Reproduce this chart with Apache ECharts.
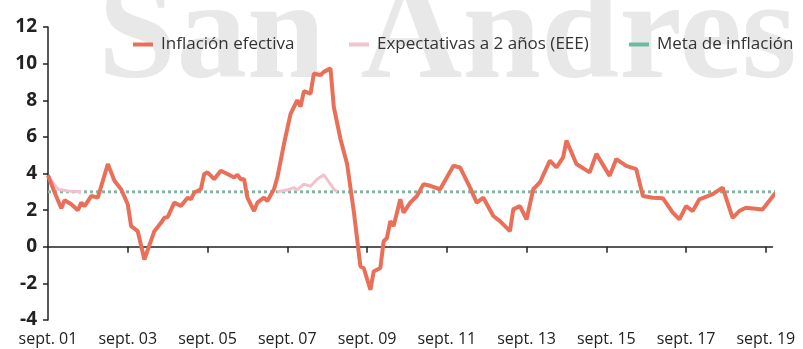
<!DOCTYPE html>
<html>
<head>
<meta charset="utf-8">
<script src="https://cdn.jsdelivr.net/npm/echarts@6/dist/echarts.min.js"></script>
<style>
  html, body { margin: 0; padding: 0; background: #ffffff; }
  #chart { width: 803px; height: 349px; }
</style>
</head>
<body>
<div id="chart"></div>
<script>
// Monthly axis starts at September 2001 (month 0)
const startYear = 2001, startMonth = 9;

// Tick labels every two years
const tickLabels = ['sept. 01', 'sept. 03', 'sept. 05', 'sept. 07', 'sept. 09',
                    'sept. 11', 'sept. 13', 'sept. 15', 'sept. 17', 'sept. 19'];
const tickMonths = ['2001-09', '2003-09', '2005-09', '2007-09', '2009-09',
                    '2011-09', '2013-09', '2015-09', '2017-09', '2019-09'];

// Inflación efectiva (% a/a)
const inflDates = ['2001-09','2001-11','2002-01','2002-02','2002-04','2002-06','2002-07','2002-08','2002-10','2002-12',
  '2003-03','2003-05','2003-07','2003-09','2003-10','2003-12','2004-02','2004-05','2004-07','2004-08',
  '2004-09','2004-11','2005-01','2005-03','2005-04','2005-05','2005-07','2005-08','2005-09','2005-11',
  '2006-01','2006-03','2006-05','2006-06','2006-07','2006-08','2006-09','2006-11','2006-12','2007-02',
  '2007-03','2007-05','2007-06','2007-08','2007-10','2007-12','2008-01','2008-02','2008-04','2008-05',
  '2008-07','2008-08','2008-10','2008-11','2009-01','2009-03','2009-05','2009-07','2009-08','2009-10',
  '2009-11','2010-01','2010-02','2010-03','2010-04','2010-05','2010-07','2010-08','2010-10','2010-12',
  '2011-02','2011-04','2011-07','2011-11','2012-01','2012-04','2012-06','2012-08','2012-11','2013-01',
  '2013-04','2013-05','2013-07','2013-09','2013-11','2014-01','2014-04','2014-06','2014-08','2014-09',
  '2014-12','2015-04','2015-06','2015-10','2015-12','2016-03','2016-06','2016-08','2016-11','2017-02',
  '2017-05','2017-07','2017-09','2017-11','2018-01','2018-05','2018-08','2018-11','2019-01','2019-03',
  '2019-08','2019-12'];
const inflValues = [3.9, 2.96, 2.1, 2.54, 2.32, 1.99, 2.41, 2.22, 2.77, 2.68,
  4.52, 3.6, 3.14, 2.32, 1.13, 0.85, -0.7, 0.85, 1.31, 1.58,
  1.62, 2.41, 2.22, 2.68, 2.59, 2.96, 3.14, 3.97, 4.06, 3.69,
  4.15, 3.97, 3.78, 3.93, 3.69, 3.69, 2.68, 1.95, 2.41, 2.68,
  2.5, 3.14, 3.78, 5.61, 7.26, 8.0, 7.65, 8.5, 8.36, 9.46,
  9.37, 9.55, 9.74, 7.63, 5.89, 4.52, 1.95, -1.07, -1.16, -2.35,
  -1.35, -1.16, 0.3, 0.48, 1.4, 1.13, 2.59, 1.86, 2.41, 2.77,
  3.42, 3.33, 3.14, 4.42, 4.33, 3.23, 2.41, 2.68, 1.68, 1.4,
  0.85, 2.04, 2.22, 1.49, 3.14, 3.51, 4.7, 4.33, 4.88, 5.8,
  4.52, 4.06, 5.07, 3.87, 4.79, 4.42, 4.24, 2.77, 2.68, 2.65,
  1.86, 1.49, 2.22, 1.95, 2.59, 2.87, 3.23, 1.58, 1.95, 2.13,
  2.04, 2.96];

// Expectativas a 2 años (EEE): visible stretches above the target
const expDates = ['2001-09','2001-12','2002-03','2002-07', null,
  '2007-06','2007-09','2007-11','2007-12','2008-02','2008-04','2008-06','2008-08','2008-10','2008-11','2008-12'];
const expValues = [3.85, 3.14, 3.05, 3.0, null,
  3.0, 3.1, 3.23, 3.1, 3.42, 3.3, 3.69, 3.93, 3.42, 3.14, 3.0];

// Meta de inflación
const metaDates = ['2001-09', '2019-12'];
const metaValues = [3, 3];

function monthIndex(s) {
  const [y, m] = s.split('-').map(Number);
  return (y - startYear) * 12 + (m - startMonth);
}
function pairs(dates, values) {
  return dates.map((d, i) => d === null ? [null, null] : [monthIndex(d), values[i]]);
}
const tickPos = tickMonths.map(monthIndex);
const labelOf = {};
tickPos.forEach((p, i) => { labelOf[p] = tickLabels[i]; });

const FONT = '"Open Sans", Lato, sans-serif';
const chart = echarts.init(document.getElementById('chart'), null, { renderer: 'canvas' });

const legendBase = {
  top: 31,
  icon: 'rect',
  itemWidth: 20,
  itemHeight: 4,
  selectedMode: false,
  itemStyle: { borderWidth: 0 },
  textStyle: { fontFamily: FONT, fontSize: 17, color: '#333333', padding: [0, 0, 0, 3] }
};

chart.setOption({
  animation: false,
  backgroundColor: '#ffffff',
  graphic: [{
    type: 'text',
    left: 98,
    top: -30,
    z: -10,
    silent: true,
    style: {
      text: 'San Andres',
      font: 'bold 141px "Liberation Serif", "DejaVu Serif", serif',
      fill: '#e8e8e8'
    }
  }],
  legend: [
    Object.assign({}, legendBase, { left: 128, data: ['Inflación efectiva'] }),
    Object.assign({}, legendBase, { left: 344, data: ['Expectativas a 2 años (EEE)'] }),
    Object.assign({}, legendBase, { left: 624, data: ['Meta de inflación'] })
  ],
  grid: { left: 48, right: 803 - 772.5, top: 27, bottom: 29, containLabel: false },
  xAxis: [{
    type: 'value',
    min: 0,
    max: 218,
    axisLine: { onZero: true, lineStyle: { color: '#222222', width: 1.5 } },
    axisTick: { show: true, length: 6, customValues: tickPos.slice(1), lineStyle: { color: '#222222', width: 1.5 } },
    axisLabel: { show: false },
    splitLine: { show: false }
  }, {
    type: 'value',
    min: 0,
    max: 218,
    position: 'bottom',
    axisLine: { show: false, onZero: false },
    axisTick: { show: false },
    axisLabel: {
      show: true,
      customValues: tickPos,
      formatter: v => labelOf[v] || '',
      margin: 11,
      fontFamily: FONT,
      fontSize: 16,
      color: '#222222'
    },
    splitLine: { show: false }
  }],
  yAxis: {
    type: 'value',
    min: -4,
    max: 12,
    interval: 2,
    axisLine: { show: true, lineStyle: { color: '#222222', width: 1.5 } },
    axisTick: { show: true, length: 5, lineStyle: { color: '#222222', width: 1.5 } },
    axisLabel: { fontFamily: FONT, fontSize: 19, fontWeight: 'bold', color: '#222222', margin: 11 },
    splitLine: { show: false }
  },
  series: [{
    name: 'Meta de inflación',
    type: 'line',
    data: pairs(metaDates, metaValues),
    symbol: 'none',
    color: '#6dbb9c',
    lineStyle: { color: '#86b5a4', width: 3, type: [3, 3] },
    z: 2
  }, {
    name: 'Expectativas a 2 años (EEE)',
    type: 'line',
    data: pairs(expDates, expValues),
    symbol: 'none',
    connectNulls: false,
    color: '#f2c4cf',
    lineStyle: { color: '#efc3cd', width: 3 },
    z: 3
  }, {
    name: 'Inflación efectiva',
    type: 'line',
    data: pairs(inflDates, inflValues),
    symbol: 'none',
    clip: false,
    color: '#ea6f58',
    lineStyle: { color: '#ea6f58', width: 4 },
    z: 4
  }]
});
</script>
</body>
</html>
